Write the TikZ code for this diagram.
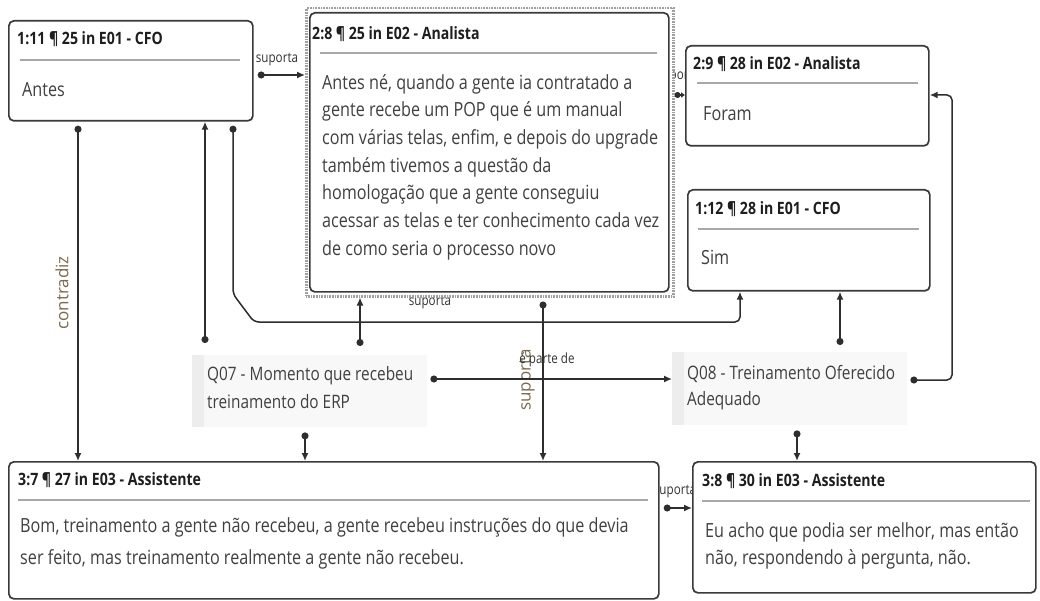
\documentclass[tikz,border=0pt]{standalone}
\usepackage{fontspec}
\setmainfont{Open Sans}[FakeStretch=0.83]
\newfontfamily\rotfont{Open Sans}
\usetikzlibrary{arrows.meta}
\pgfdeclarelayer{bg}
\pgfdeclarelayer{edges}
\pgfsetlayers{bg,edges,main}
\definecolor{boxc}{HTML}{3A3A3A}
\definecolor{titc}{HTML}{1E1E1E}
\definecolor{txtc}{HTML}{404040}
\definecolor{sepc}{HTML}{A8A8A8}
\definecolor{linec}{HTML}{2E2E2E}
\definecolor{lblc}{HTML}{333333}
\definecolor{olivec}{HTML}{7A6A4E}
\definecolor{qfill}{HTML}{F8F8F8}
\definecolor{qstrip}{HTML}{EDEDED}
\definecolor{selc}{HTML}{A0A0A0}
\begin{document}
\begin{tikzpicture}[x=1pt,y=-1pt,
  box/.style={draw=boxc, line width=1.7pt, rounded corners=5pt, fill=white, inner sep=0pt, anchor=north west},
  selbox/.style={draw=selc, line width=2.5pt, dash pattern=on 0.8pt off 0.8pt, fill=white, inner sep=0pt, anchor=north west},
  qbox/.style={fill=qfill, inner sep=0pt, anchor=north west},
  ttl/.style={anchor=mid west, inner sep=0pt, font=\fontsize{17}{20}\selectfont\bfseries, text=titc},
  txt/.style={anchor=mid west, inner sep=0pt, font=\fontsize{19.5}{24}\selectfont, text=txtc},
  qtxt/.style={anchor=mid west, inner sep=0pt, font=\fontsize{18.5}{24}\selectfont, text=txtc},
  sep/.style={draw=sepc, line width=1.3pt},
  conn/.style={draw=linec, line width=1.5pt, rounded corners=5pt, shorten <=4pt,
    arrows={Circle[length=7pt,width=7pt]-Latex[length=8pt,width=7pt]}},
  lbl/.style={inner sep=0pt, font=\fontsize{14}{16}\selectfont, text=lblc},
  rlbl/.style={inner sep=0pt, rotate=90, font=\rotfont\fontsize{17}{20}\selectfont, text=olivec},
]
\begin{pgfonlayer}{bg}
\fill[white] (0,0) rectangle (1040,601);
\end{pgfonlayer}
\useasboundingbox (0,0) rectangle (1040,601);

% ---------- boxes ----------
\node[box, minimum width=244pt, minimum height=100pt] (A) at (8,20) {};
\node[selbox, minimum width=367pt, minimum height=288pt] (Bsel) at (305,7) {};
\node[box, minimum width=359pt, minimum height=279pt] (B) at (309,12) {};
\node[box, minimum width=243pt, minimum height=100pt] (C) at (685,45) {};
\node[box, minimum width=242pt, minimum height=101pt] (D) at (687,189) {};
\node[box, minimum width=650pt, minimum height=137pt] (E) at (8,461) {};
\node[box, minimum width=343pt, minimum height=131pt] (F) at (692,461) {};
\node[qbox, minimum width=235pt, minimum height=72pt] (Q07) at (192,355) {};
\node[qbox, minimum width=235pt, minimum height=73pt] (Q08) at (672,352) {};
\fill[qstrip] (Q07.north west) rectangle ([xshift=12pt]Q07.south west);
\fill[qstrip] (Q08.north west) rectangle ([xshift=12pt]Q08.south west);

% ---------- box texts ----------
\node[ttl] (At) at (17,41.7) {1:11 ¶ 25 in E01 - CFO};
\draw[sep] (20,60) -- (240,60);
\node[txt] (Ab) at (22,93.5) {Antes};

\node[ttl] (Bt) at (312,37) {2:8 ¶ 25 in E02 - Analista};
\draw[sep] (320,53) -- (657,53);
\foreach \t [count=\i] in {{Antes né, quando a gente ia contratado a},
  {gente recebe um POP que é um manual},
  {com várias telas, enfim, e depois do upgrade},
  {também tivemos a questão da},
  {homologação que a gente conseguiu},
  {acessar as telas e ter conhecimento cada vez},
  {de como seria o processo novo}}
  \node[txt] (Bb\i) at (322,{86.5+(\i-1)*27.7}) {\t};

\node[ttl] (Ct) at (693,67) {2:9 ¶ 28 in E02 - Analista};
\draw[sep] (697,83) -- (918,83);
\node[txt] (Cb) at (703,118) {Foram};

\node[ttl] (Dt) at (695,212) {1:12 ¶ 28 in E01 - CFO};
\draw[sep] (698,229) -- (919,229);
\node[txt] (Db) at (701,262) {Sim};

\node[ttl] (Et) at (18,483) {3:7 ¶ 27 in E03 - Assistente};
\draw[sep] (18,500) -- (648,500);
\node[txt] (Eb1) at (20,530) {Bom, treinamento a gente não recebeu, a gente recebeu instruções do que devia};
\node[txt] (Eb2) at (20,562) {ser feito, mas treinamento realmente a gente não recebeu.};

\node[ttl] (Ft) at (702,484) {3:8 ¶ 30 in E03 - Assistente};
\draw[sep] (702,501) -- (1030,501);
\node[txt] (Fb1) at (705,535) {Eu acho que podia ser melhor, mas então};
\node[txt] (Fb2) at (705,562) {não, respondendo à pergunta, não.};

\node[qtxt] (Q07a) at (207,378) {Q07 - Momento que recebeu};
\node[qtxt] (Q07b) at (207,406) {treinamento do ERP};
\node[qtxt] (Q08a) at (687,377) {Q08 - Treinamento Oferecido};
\node[qtxt] (Q08b) at (687,403) {Adequado};

% ---------- connectors ----------
\begin{pgfonlayer}{edges}
% A -> B
\draw[conn] (A.east |- 0,75) -- (Bsel.west |- 0,75);
\node[lbl] (l1) at (277,60) {suporta};
% B -> C
\draw[draw=linec, line width=1.5pt, arrows={Circle[length=6pt,width=6pt]-Latex[length=4pt,width=6pt]}]
  (Bsel.east |- 0,95) -- (C.west |- 0,95);
\node[lbl] (l2) at (678,77) {suporta};
% A -> E contradiz
\draw[conn] (78,0 |- A.south) -- (78,0 |- E.north);
\node[rlbl] (l3) at (62,293) {contradiz};
% Q07 -> A
\draw[conn, shorten <=12pt] (205,0 |- Q07.north) -- (205,0 |- A.south);
% A -> D suporta
\draw[conn] (233,0 |- A.south) -- (233,294) -- (254,322) -- (740,322) -- (740,0 |- D.south);
\node[lbl] (l4) at (430,303) {suporta};
% Q07 -> B
\draw[conn, shorten <=9pt] (360,0 |- Q07.north) -- (360,0 |- Bsel.south);
% B -> E suporta
\draw[conn] (543,0 |- Bsel.south) -- (543,0 |- E.north);
\node[rlbl] (l5) at (527,380) {suporta};
% Q07 -> Q08
\draw[conn, shorten <=3pt] (Q07.east |- 0,379) -- (Q08.west |- 0,379);
\node[lbl] (l6) at (547,360) {é parte de};
% Q07 -> E
\draw[conn, shorten <=5pt] (305,0 |- Q07.south) -- (305,0 |- E.north);
% Q08 -> D
\draw[conn, shorten <=7pt] (840,0 |- Q08.north) -- (840,0 |- D.south);
% Q08 -> C
\draw[conn, shorten <=3pt] (Q08.east |- 0,380) -- (952,380) -- (952,95) -- (C.east |- 0,95);
% Q08 -> F
\draw[conn, shorten <=5pt] (797,0 |- Q08.south) -- (797,0 |- F.north);
% E -> F
\draw[conn] (E.east |- 0,508) -- (F.west |- 0,508);
\node[lbl] (l7) at (675,492) {suporta};
\end{pgfonlayer}
\end{tikzpicture}
\end{document}
